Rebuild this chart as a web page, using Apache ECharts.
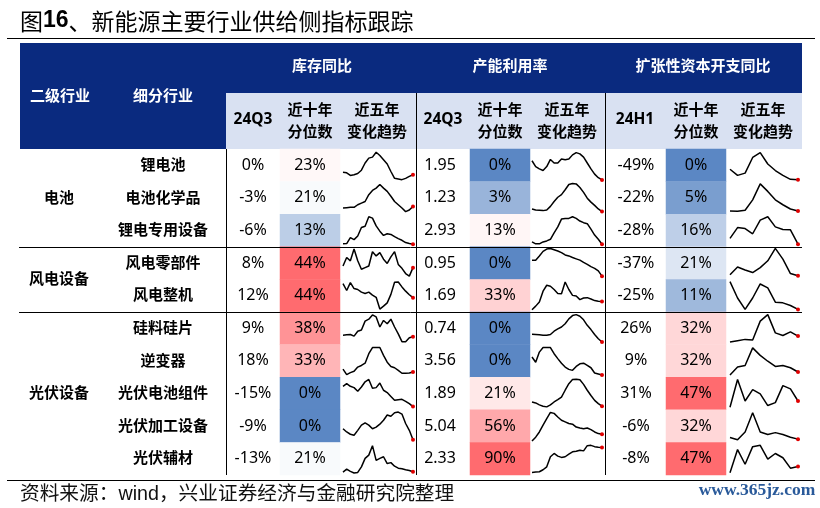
<!DOCTYPE html>
<html>
<head>
<meta charset="utf-8">
<style>html,body{margin:0;padding:0;background:#fff}#c{width:820px;height:508px}</style>
<script src="https://cdn.jsdelivr.net/npm/echarts@6/dist/echarts.min.js"></script>
</head>
<body>
<div id="c"></div>
<script>
const groups = ['电池', '风电设备', '光伏设备'];
const subIndustries = ['锂电池','电池化学品','锂电专用设备','风电零部件','风电整机','硅料硅片','逆变器','光伏电池组件','光伏加工设备','光伏辅材'];

const inventoryYoY = ['0%','-3%','-6%','8%','12%','9%','18%','-15%','-9%','-13%'];
const inventoryPct = [23,21,13,44,44,38,33,0,0,21];
const utilization = ['1.95','1.23','2.93','0.95','1.69','0.74','3.56','1.89','5.04','2.33'];
const utilizationPct = [0,3,13,0,33,0,0,21,56,90];
const capexYoY = ['-49%','-22%','-28%','-37%','-25%','26%','9%','31%','-6%','-8%'];
const capexPct = [0,5,16,21,11,32,32,47,32,47];

const inventoryTrend = [
 [29,27,19,21,25,35,57,72,75,90,80,67,54,31,10,8,6,10,16,21],
 [19,20,21,21,29,34,39,60,73,80,91,80,70,55,39,29,19,8,13,24],
 [9,10,28,22,33,59,63,92,88,64,48,35,40,38,31,25,20,13,10,8],
 [41,67,57,93,57,31,36,41,85,72,82,62,49,69,85,46,34,18,10,36],
 [87,66,90,72,69,61,57,61,52,45,9,18,28,54,91,92,77,64,53,44],
 [29,30,31,26,41,45,72,78,91,85,54,74,64,78,54,33,9,9,21,24],
 [25,8,14,18,31,36,43,72,91,91,91,67,46,33,29,21,12,12,13,16],
 [72,80,72,68,57,70,86,93,66,68,82,60,53,41,29,31,32,26,19,10],
 [42,32,25,22,37,53,60,53,42,47,56,68,84,80,91,93,87,58,37,8],
 [9,18,11,6,8,25,51,61,90,45,51,56,35,38,27,21,19,16,14,10]
];
const utilizationTrend = [
 [64,46,39,34,46,68,57,57,69,67,69,82,89,85,75,57,39,23,12,5],
 [16,13,12,11,13,24,39,52,60,75,91,94,93,82,67,49,37,27,16,8],
 [15,9,9,15,18,23,43,61,85,87,87,92,87,79,74,71,54,36,23,8],
 [59,59,72,86,93,95,91,87,82,75,72,67,63,59,52,46,39,34,26,10],
 [7,18,31,64,82,79,69,57,56,92,69,51,49,38,43,44,40,35,33,32],
 [32,31,30,29,29,31,41,48,54,64,79,89,92,87,76,59,46,31,18,8],
 [62,46,77,91,91,91,72,57,43,31,24,21,33,41,43,36,29,13,10,7],
 [24,21,15,11,9,15,24,31,39,60,80,93,94,92,78,60,44,29,19,11],
 [4,16,32,53,73,92,89,78,68,63,58,56,47,44,42,44,39,32,27,25],
 [8,9,10,16,25,56,66,58,54,56,64,71,73,76,74,90,91,87,85,84]
];
const capexTrend = [
 [38,19,26,74,89,54,34,19,7,6],
 [10,9,12,44,93,70,44,29,16,10],
 [26,59,56,40,82,92,61,53,52,8],
 [14,38,29,21,36,57,95,62,18,11],
 [93,43,8,43,86,74,30,28,20,8],
 [8,12,16,14,72,92,36,28,39,26],
 [7,31,36,90,67,49,33,36,29,16],
 [8,93,27,62,49,13,22,74,64,27],
 [15,8,32,91,32,24,30,24,16,10],
 [7,78,33,87,91,49,66,53,21,26]
];

// ---- layout & styling -----------------------------------------------------
const NAVY = '#0a2a7f', BAND = '#d9e1f2';
const CJK = '"Noto Sans CJK SC","Noto Sans",sans-serif';
const NUM = '"Noto Sans","Noto Sans CJK SC",sans-serif';
const tableTop = 149, rowH = 32.6, rows = subIndustries.length;

function mix(a, b, t) {
  const c = i => Math.round(a[i] + (b[i] - a[i]) * t);
  return 'rgb(' + c(0) + ',' + c(1) + ',' + c(2) + ')';
}
const BLUE = [91,135,196], WHITE = [255,255,255], RED = [255,107,111];
function median(a) { const s = [...a].sort((x,y)=>x-y); return (s[4]+s[5])/2; }
function scaleColor(v, arr) {
  const lo = Math.min(...arr), hi = Math.max(...arr), mid = median(arr);
  return v <= mid ? mix(BLUE, WHITE, (v-lo)/(mid-lo)) : mix(WHITE, RED, (v-mid)/(hi-mid));
}

const grids = [], xAxes = [], yAxes = [], series = [];
function addGrid(left, top, width, height, xCfg, yCfg) {
  const i = grids.length;
  grids.push({left, top, width, height, containLabel:false, show:false});
  xAxes.push(Object.assign({gridIndex:i, show:false}, xCfg));
  yAxes.push(Object.assign({gridIndex:i, show:false}, yCfg));
  return i;
}
function cellColumn(left, width, labels, colors, font) {
  const idx = addGrid(left, tableTop, width, rowH*rows,
    {type:'category', data:['c']},
    {type:'category', data:subIndustries, inverse:true});
  series.push({
    type:'heatmap', xAxisIndex:idx, yAxisIndex:idx, silent:true,
    data: labels.map((l,i)=>({value:[0,i,1], itemStyle:{color: colors ? colors[i] : 'rgba(255,255,255,0)'}})),
    label:Object.assign({show:true, color:'#000', formatter:p=>labels[p.dataIndex]}, font),
    emphasis:{disabled:true}
  });
}
const numFont = {fontFamily:NUM, fontSize:16};
const boldCjk = {fontFamily:CJK, fontSize:15, fontWeight:'bold', color:'#000', offset:[0,-1]};

cellColumn(100, 126, subIndustries, null, boldCjk);
const pct = a => a.map(v=>v+'%');
const cols = [
  {valLeft:226, valW:54, pctLeft:280, pct:inventoryPct, val:inventoryYoY, trend:inventoryTrend, sparkLeft:343, sparkW:70},
  {valLeft:413, valW:54, pctLeft:470, pct:utilizationPct, val:utilization, trend:utilizationTrend, sparkLeft:532, sparkW:70},
  {valLeft:606, valW:60, pctLeft:666, pct:capexPct, val:capexYoY, trend:capexTrend, sparkLeft:730, sparkW:68}
];
cols.forEach(c=>{
  cellColumn(c.valLeft, c.valW, c.val, null, numFont);
  cellColumn(c.pctLeft, 60, pct(c.pct), c.pct.map(v=>scaleColor(v,c.pct)), numFont);
  c.trend.forEach((vals,r)=>{
    const idx = addGrid(c.sparkLeft, tableTop + r*rowH, c.sparkW, rowH,
      {type:'category', boundaryGap:false, data:vals.map((_,i)=>i)},
      {type:'value', min:0, max:100});
    const last = vals.length-1;
    series.push({
      type:'line', xAxisIndex:idx, yAxisIndex:idx, silent:true, animation:false,
      data: vals.map((v,i)=> i===last ? {value:v, itemStyle:{color:'#e00000'}} : {value:v}),
      showSymbol:true, showAllSymbol:true, clip:false,
      symbol:(v,p)=> p.dataIndex===last ? 'circle' : 'none',
      symbolSize:4,
      lineStyle:{color:'#000', width:1.5}, z:5
    });
  });
});

const rect = (x,y,w,h,fill)=>({type:'rect', shape:{x,y,width:w,height:h}, style:{fill}, silent:true, z:1});
const line = (x1,y1,x2,y2,w)=>({type:'line', shape:{x1,y1,x2,y2}, style:{stroke:'#000', lineWidth:w||1}, silent:true, z:20});
const txt = (x,y,text,o)=>({type:'text', x, y, silent:true, z:30, style:Object.assign({text, fill:'#000', align:'center', verticalAlign:'middle', font:'bold 15px '+CJK}, o||{})});
const white = {fill:'#fff'};
const numBold = {font:'bold 15.5px '+NUM};

const headers = [
  txt(60,95,'二级行业',white), txt(163,95,'细分行业',white),
  txt(322,65,'库存同比',white), txt(510,65,'产能利用率',white), txt(703,65,'扩张性资本开支同比',white),
  txt(253,120,'24Q3',numBold), txt(443,120,'24Q3',numBold), txt(635,120,'24H1',numBold)
];
[[310,377],[500,567],[696,763]].forEach(([a,b])=>{
  headers.push(txt(a,109,'近十年'),txt(a,131,'分位数'),txt(b,109,'近五年'),txt(b,131,'变化趋势'));
});

const graphic = [
  rect(20,43,782,106,NAVY),
  rect(226,93,576,56,BAND),
  line(7,38.5,815,38.5,1.2),
  line(7,480.5,815,480.5,1.2),
  line(226.5,149,226.5,475),
  line(416.5,93,416.5,475),
  line(605.5,93,605.5,475),
  line(19,247.5,802,247.5),
  line(19,312.5,802,312.5),
  ...headers,
  txt(59,197,groups[0]), txt(59,278,groups[1]), txt(59,392,groups[2]),
  txt(20,495,'资料来源：wind，兴业证券经济与金融研究院整理',{align:'left', font:'19.7px "Liberation Sans","Noto Sans CJK SC",sans-serif', fill:'#111'}),
  txt(757,490,'www.365jz.com',{font:'bold 17.5px "Liberation Serif",serif', fill:'#2a5a9a'})
];

const chart = echarts.init(document.getElementById('c'), null, {renderer:'canvas'});
chart.setOption({
  animation:false,
  backgroundColor:'#fff',
  title:{
    left:20, top:7, padding:0,
    text:'{a|图}{b|16}{a|、新能源主要行业供给侧指标跟踪}',
    textStyle:{fontWeight:'normal', rich:{
      a:{fontFamily:CJK, fontWeight:'normal', fontSize:23, color:'#000', lineHeight:28},
      b:{fontFamily:'"Liberation Sans",Arial,sans-serif', fontWeight:'bold', fontSize:23, color:'#000', lineHeight:28}
    }}
  },
  grid:grids, xAxis:xAxes, yAxis:yAxes, series, graphic
});
</script>
</body>
</html>
